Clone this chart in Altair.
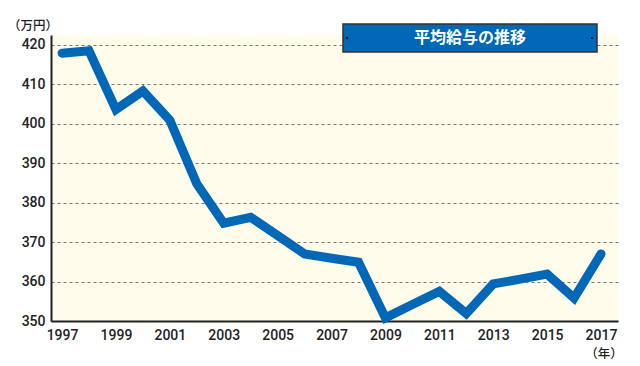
import altair as alt
import pandas as pd

years = list(range(1997, 2018))
salary = [417.9, 418.5, 403.6, 408.3, 400.9, 384.8, 374.8, 376.3, 371.7, 367.0,
          365.9, 364.9, 350.8, 354.2, 357.5, 351.9, 359.4, 360.6, 361.9, 355.8, 367.0]
y_ticks = [350, 360, 370, 380, 390, 400, 410, 420]
x_ticks = [1997, 1999, 2001, 2003, 2005, 2007, 2009, 2011, 2013, 2015, 2017]
title_text = "平均給与の推移"
y_unit = "（万円）"
x_unit = "（年）"

df = pd.DataFrame({"year": years, "salary": salary})
one = pd.DataFrame({"k": [0]})

BLUE = "#0068B7"
FONT = "Roboto"
CJK = "Noto Sans CJK JP"

x_enc = alt.X("year:Q",
              scale=alt.Scale(domain=[1996.59, 2017.63], nice=False, zero=False),
              axis=alt.Axis(values=x_ticks, format="d", title=None, grid=False,
                            ticks=False, domainColor="#222", domainWidth=2,
                            labelFont=FONT, labelFontSize=14, labelFontWeight=500,
                            labelColor="#222", labelPadding=7, labelFlush=False))
y_enc = alt.Y("salary:Q",
              scale=alt.Scale(domain=[350, 422.5], nice=False, zero=False),
              axis=alt.Axis(values=y_ticks, title=None, grid=True, gridDash=[3, 3],
                            gridColor="#777", gridWidth=1, ticks=False,
                            domainColor="#222", domainWidth=2,
                            labelFont=FONT, labelFontSize=14, labelFontWeight=500,
                            labelColor="#222", labelPadding=6))

line = alt.Chart(df).mark_line(color=BLUE, strokeWidth=9, strokeJoin="miter",
                               strokeCap="round").encode(x=x_enc, y=y_enc)

box = alt.Chart(one).mark_rect(fill=BLUE, stroke="#333", strokeWidth=1.5).encode(
    x=alt.value(292), x2=alt.value(546), y=alt.value(-11), y2=alt.value(17))

title = alt.Chart(one).mark_text(text=title_text, color="white", fontSize=16,
                                 font=CJK, fontWeight="bold",
                                 align="center", baseline="middle").encode(
    x=alt.value(419), y=alt.value(3))

dots_df = pd.DataFrame({"px": [296, 541]})
dots = alt.Chart(dots_df).mark_circle(color="#111", size=6, opacity=1).encode(
    x=alt.X("px:Q", scale=None), y=alt.value(3))

yunit = alt.Chart(one).mark_text(text=y_unit, fontSize=12.5, font=CJK, fontWeight=500,
                                 color="#222", align="left", baseline="middle").encode(
    x=alt.value(-43), y=alt.value(-9))
xunit = alt.Chart(one).mark_text(text=x_unit, fontSize=12.5, font=CJK, fontWeight=500,
                                 color="#222", align="center", baseline="middle").encode(
    x=alt.value(553), y=alt.value(319))

chart = alt.layer(line, box, title, dots, yunit, xunit).properties(
    width=567, height=286,
    autosize=alt.AutoSizeParams(type="none"),
    padding={"left": 43, "top": 27, "right": 14, "bottom": 48},
    background="white",
).configure_view(fill="#FFFCEB", stroke=None)

chart.save("out.html", embed_options={"renderer": "svg", "actions": False})
